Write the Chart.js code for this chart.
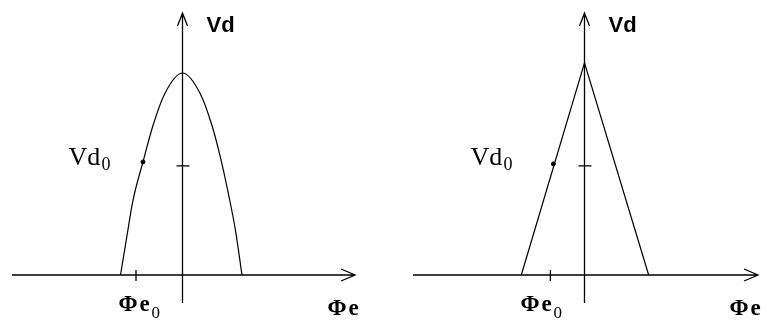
<!DOCTYPE html>
<html>
<head>
<meta charset="utf-8">
<script src="https://cdn.jsdelivr.net/npm/chart.js@4.4.0/dist/chart.umd.min.js"></script>
<style>
  html, body { margin: 0; padding: 0; background: #fff; }
  #wrap { display: flex; width: 769px; height: 322px; }
  canvas { display: block; }
</style>
</head>
<body>
<div id="wrap">
  <canvas id="chartParabola" width="384" height="322"></canvas>
  <canvas id="chartTriangle" width="385" height="322"></canvas>
</div>
<script>
// Vd vs Phi_e, two characteristic shapes (parabolic and triangular)
const vdZero = 0.54;               // Vd0 level marked on the vertical axis

// parabolic response
const parabolaPhiE = [-6.2, -5.6, -4.95, -3.95, -2.95, -1.75, 0, 1.75, 2.95, 3.85, 4.6, 5.3, 5.95];
const parabolaVd   = [0, 0.18, 0.37, 0.56, 0.74, 0.90, 1.0, 0.90, 0.74, 0.57, 0.40, 0.22, 0];
const parabolaPhiE0 = -4.65;
const parabolaMark = { x: -3.95, y: 0.56 };

// triangular response
const trianglePhiE = [-6.3, 0, 6.4];
const triangleVd   = [0, 1.05, 0];
const trianglePhiE0 = -3.4;
const triangleMark = { x: -3.1, y: 0.55 };

const toPoints = (xs, ys) => xs.map((v, i) => ({ x: v, y: ys[i] }));

// axes with open arrowheads, the two small ticks and the labels
const axesSketch = {
  id: 'axesSketch',
  afterDatasetsDraw(chart, args, opts) {
    const { ctx, chartArea: a, scales: { x, y } } = chart;
    const ox = x.getPixelForValue(0), oy = y.getPixelForValue(0);
    const tx = x.getPixelForValue(opts.phiE0), ty = y.getPixelForValue(opts.vd0);
    ctx.save();
    ctx.strokeStyle = '#000';
    ctx.lineWidth = 1.3;
    ctx.beginPath();
    ctx.moveTo(a.left, oy); ctx.lineTo(a.right, oy);
    ctx.moveTo(ox, a.bottom); ctx.lineTo(ox, a.top);
    ctx.moveTo(a.right - 14, oy - 6); ctx.lineTo(a.right, oy); ctx.lineTo(a.right - 14, oy + 6);
    ctx.moveTo(ox - 5, a.top + 13); ctx.lineTo(ox, a.top); ctx.lineTo(ox + 5, a.top + 13);
    ctx.moveTo(tx, oy - 5); ctx.lineTo(tx, oy + 6);
    ctx.moveTo(ox - 6, ty); ctx.lineTo(ox + 7, ty);
    ctx.stroke();

    ctx.fillStyle = '#000';
    ctx.textBaseline = 'alphabetic';
    ctx.font = 'bold 22px "Liberation Sans", Arial, sans-serif';
    ctx.fillText('Vd', ox + 24, a.top + 19);

    ctx.font = '26px "Liberation Serif", "Times New Roman", serif';
    ctx.fillText('Vd', ox - 114, ty - 1);
    ctx.font = '18px "Liberation Serif", "Times New Roman", serif';
    ctx.fillText('0', ox - 81, ty + 4);

    ctx.font = 'bold 23px "Liberation Serif", "Times New Roman", serif';
    ctx.fillText('\u03A6', ox - 64, oy + 36);
    ctx.fillText('e', ox - 43, oy + 36);
    ctx.font = '17px "Liberation Serif", "Times New Roman", serif';
    ctx.fillText('0', ox - 31, oy + 43);

    ctx.font = 'bold 23px "Liberation Serif", "Times New Roman", serif';
    ctx.fillText('\u03A6', ox + 145, oy + 40);
    ctx.fillText('e', ox + 166, oy + 40);
    ctx.restore();
  }
};

function makeChart(id, xs, ys, mark, phiE0, smooth, padding, xMin, xMax) {
  return new Chart(document.getElementById(id), {
    type: 'line',
    data: {
      datasets: [{
        data: toPoints(xs, ys),
        borderColor: '#000',
        borderWidth: 1.2,
        pointRadius: 0,
        fill: false,
        cubicInterpolationMode: smooth ? 'monotone' : 'default',
        tension: 0
      }, {
        type: 'scatter',
        data: [mark],
        pointRadius: 2,
        pointBackgroundColor: '#000',
        pointBorderColor: '#000'
      }]
    },
    options: {
      responsive: false,
      animation: false,
      devicePixelRatio: 1,
      layout: { padding: padding },
      plugins: {
        legend: { display: false },
        tooltip: { enabled: false },
        axesSketch: { phiE0: phiE0, vd0: vdZero }
      },
      scales: {
        x: { type: 'linear', display: false, min: xMin, max: xMax },
        y: { type: 'linear', display: false, min: -0.1386, max: 1.297 }
      }
    },
    plugins: [axesSketch]
  });
}

makeChart('chartParabola', parabolaPhiE, parabolaVd, parabolaMark, parabolaPhiE0, true,
  { left: 12, right: 29, top: 13, bottom: 19 }, -17.05, 17.25);
makeChart('chartTriangle', trianglePhiE, triangleVd, triangleMark, trianglePhiE0, false,
  { left: 29, right: 11, top: 13, bottom: 19 }, -17.1, 17.3);
</script>
</body>
</html>
